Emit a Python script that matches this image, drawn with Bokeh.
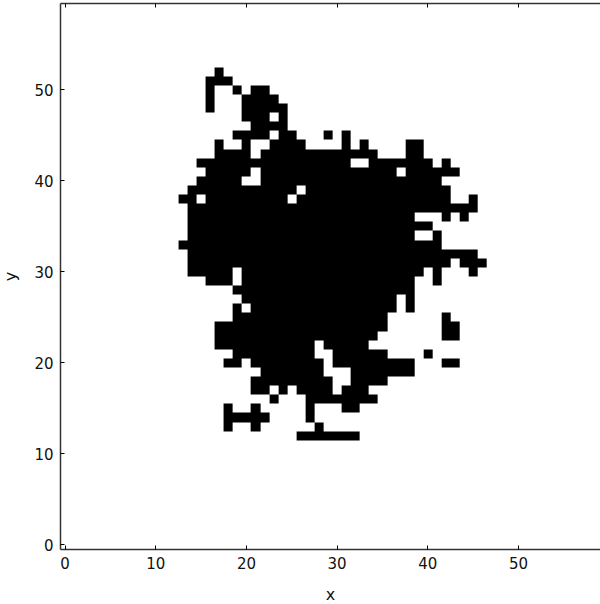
import numpy as np
from bokeh.plotting import figure
from bokeh.models import LinearAxis, Range1d, FixedTicker
from bokeh.embed import file_html
from bokeh.resources import INLINE

grid_size = 60
tick_values = [0, 10, 20, 30, 40, 50]
x_label = "x"
y_label = "y"

# filled cells per row: each entry is a column or an inclusive (first, last) run
row_12 = [(26, 32)]
row_13 = [18, 21, 28]
row_14 = [(18, 22), 27]
row_15 = [18, 21, 27, (31, 32)]
row_16 = [23, (27, 34)]
row_17 = [(21, 22), 24, (26, 29), (31, 33)]
row_18 = [(21, 29), (32, 35)]
row_19 = [(22, 28), (32, 38)]
row_20 = [(18, 19), (21, 28), (30, 38), (42, 43)]
row_21 = [(19, 27), (30, 35), 40]
row_22 = [(17, 27), (29, 33)]
row_23 = [(17, 34), (42, 43)]
row_24 = [(17, 35), (42, 43)]
row_25 = [(19, 35), 42]
row_26 = [19, (21, 36), 38]
row_27 = [(20, 36), 38]
row_28 = [(19, 38)]
row_29 = [(16, 18), (20, 38), 41]
row_30 = [(14, 18), (20, 39), 41, 45]
row_31 = [(14, 42), (44, 46)]
row_32 = [(14, 45)]
row_33 = [(13, 41)]
row_34 = [(14, 38), 41]
row_35 = [(14, 40)]
row_36 = [(14, 38), 42, 44]
row_37 = [(14, 45)]
row_38 = [13, 14, (16, 24), (26, 42), 45]
row_39 = [(14, 25), (27, 42)]
row_40 = [(15, 19), (22, 41)]
row_41 = [(16, 20), (22, 36), (38, 43)]
row_42 = [(15, 31), (34, 40), 42]
row_43 = [(17, 20), (22, 34), (38, 39)]
row_44 = [17, 20, (23, 26), 31, 33, (38, 39)]
row_45 = [(19, 22), (24, 25), 29, 31]
row_46 = [(21, 24)]
row_47 = [(20, 22), 24]
row_48 = [16, (20, 24)]
row_49 = [16, (20, 23)]
row_50 = [16, 19, (21, 22)]
row_51 = [(16, 18)]
row_52 = [17]

rows = {
    12: row_12, 13: row_13, 14: row_14, 15: row_15, 16: row_16, 17: row_17,
    18: row_18, 19: row_19, 20: row_20, 21: row_21, 22: row_22, 23: row_23,
    24: row_24, 25: row_25, 26: row_26, 27: row_27, 28: row_28, 29: row_29,
    30: row_30, 31: row_31, 32: row_32, 33: row_33, 34: row_34, 35: row_35,
    36: row_36, 37: row_37, 38: row_38, 39: row_39, 40: row_40, 41: row_41,
    42: row_42, 43: row_43, 44: row_44, 45: row_45, 46: row_46, 47: row_47,
    48: row_48, 49: row_49, 50: row_50, 51: row_51, 52: row_52,
}

grid = np.zeros((grid_size, grid_size), dtype=np.uint8)
for r, runs in rows.items():
    for run in runs:
        a, b = run if isinstance(run, tuple) else (run, run)
        grid[r, a:b + 1] = 1

FRAME_W = 540
CELL = 9.07
p = figure(
    width=602, height=607, output_backend="svg", toolbar_location=None,
    x_range=Range1d(-0.5, -0.5 + FRAME_W / CELL), y_range=Range1d(-0.5, 59.5),
    x_axis_label=x_label, y_axis_label=y_label,
    min_border_left=62, min_border_right=0, min_border_top=3, min_border_bottom=58,
    margin=(0, 0, -3, -2),
)
p.outline_line_color = None
p.grid.visible = False
p.background_fill_color = "white"

p.image(image=[grid], x=-0.5, y=-0.5, dw=grid_size, dh=grid_size,
        palette=["#ffffff", "#000000"])

bottom = p.below[0]
left = p.left[0]
top = LinearAxis(axis_label=None, major_label_standoff=0,
                 major_label_overrides={t: "" for t in tick_values})
p.add_layout(top, "above")

ticker = FixedTicker(ticks=tick_values)
for ax in (bottom, left, top):
    ax.ticker = ticker
    ax.major_tick_in = 4
    ax.major_tick_out = 0
    ax.minor_tick_in = 0
    ax.minor_tick_out = 0
    ax.axis_line_color = "#333333"
    ax.axis_line_width = 1.5
    ax.major_tick_line_color = "black"
    ax.major_tick_line_width = 1
for ax in (bottom, left):
    ax.major_label_text_font = "DejaVu Sans"
    ax.major_label_text_font_size = "15px"
    ax.major_label_text_color = "#111111"
    ax.axis_label_text_font = "DejaVu Sans"
    ax.axis_label_text_font_size = "16px"
    ax.axis_label_text_font_style = "normal"
    ax.axis_label_text_color = "#111111"
bottom.major_label_standoff = 7
left.major_label_standoff = 7
bottom.axis_label_standoff = 13
left.axis_label_standoff = 11

open("out.html", "w").write(file_html(p, INLINE))
